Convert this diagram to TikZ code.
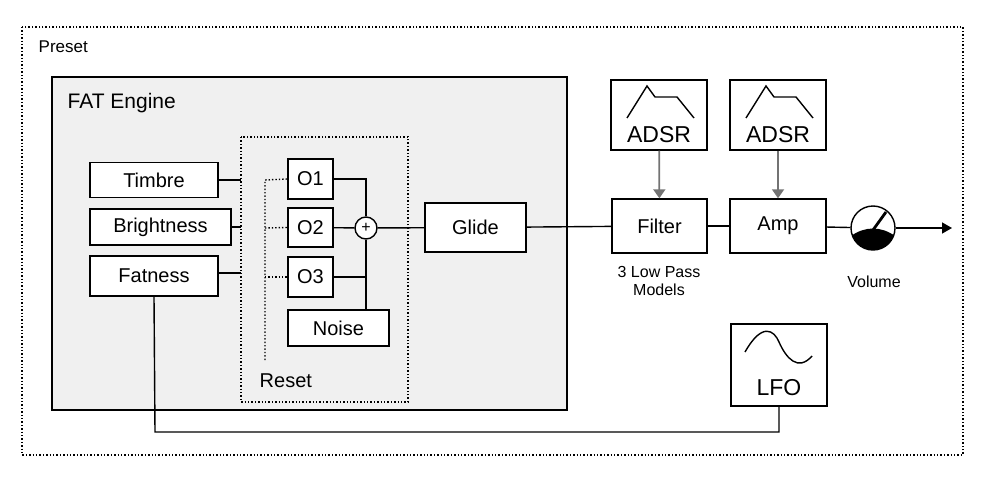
\documentclass[tikz,border=0pt]{standalone}
\usepackage{fontspec}
\setmainfont{Liberation Sans}
\usetikzlibrary{positioning}
\usetikzlibrary{calc}
\usetikzlibrary{arrows.meta}
\begin{document}
\begin{tikzpicture}[x=1pt, y=-1pt, line width=1.4pt,
        every node/.style={font=\fontsize{20}{23}\selectfont},
        blk/.style={draw, fill=white, inner sep=0pt},
        lbl/.style={anchor=west, inner sep=0pt},
        dot/.style={dotted, line width=1.4pt},
        mod/.style={draw=black!55, line width=1.8pt, -{Triangle[length=9pt, width=12pt]}}]
        \useasboundingbox (0,0) rectangle (987,503);

        \draw[dot] (22,27) rectangle (963,455);
        \node[lbl, font=\fontsize{17}{20}\selectfont] (preset) at (38,47) {Preset};
        \draw[fill=black!6] (52,77) rectangle (567,410);
        \node[lbl, font=\fontsize{21}{24}\selectfont] (fat) at (67,103) {FAT Engine};
        \draw[dot] (241,137) rectangle (408,402);
        \node[lbl] (reset) at (259,381) {Reset};

        \node[blk, minimum width=128pt, minimum height=35pt] (timbre) at (154,180) {Timbre};
        \node[blk, minimum width=141pt, minimum height=36pt] (bright) at (160.5,227) {Brightness};
        \node[blk, minimum width=128pt, minimum height=40pt] (fatness) at (154,276) {Fatness};
        \coordinate (t) at (241,180);
        \coordinate (b) at (241,227);
        \coordinate (f) at (241,273);
        \draw (timbre.east |- t) -- (t);
        \draw (bright) -- (b);
        \draw (fatness.east |- f) -- (f);

        \node[blk, minimum width=45pt, minimum height=40pt] (o1) at (310.5,179) {O1};
        \node[blk, minimum width=45pt, minimum height=39pt] (o2) at (310.5,227.5) {O2};
        \node[blk, minimum width=45pt, minimum height=40pt] (o3) at (310.5,277) {O3};
        \node[blk, minimum width=101pt, minimum height=36pt] (noise) at (338.5,328) {Noise};
        \node[draw, circle, fill=white, minimum size=22pt, inner sep=0pt, font=\fontsize{16}{16}\selectfont] (sum) at (366,228) {+};

        \coordinate (rs) at (265,360);
        \draw[dot] (rs) -- (265 ,180) -- (o1.west);
        \draw[dot] (265,228) -- (o2.west);
        \draw[dot] (265,277) -- (o3.west);
        \draw (o1.east) -| (sum.north);
        \draw (o2) -- (sum);
        \draw (o3.east) -| (sum.south);
        \draw (noise.north -| sum) -- (sum.south);

        \node[blk, minimum width=101pt, minimum height=49pt] (glide) at (475.5,227.5) {Glide};
        \node[blk, minimum width=95pt, minimum height=54pt] (filter) at (659.5,226) {Filter};
        \node[blk, minimum width=96pt, minimum height=54pt] (amp) at (778,226) {Amp};
        \node[draw, circle, fill=white, minimum size=44pt, inner sep=0pt] (knob) at (873,228) {};
        \coordinate (out) at (952,228);
        \draw (sum) -- (glide);
        \draw (glide) -- (filter);
        \draw (filter) -- (amp);
        \draw (amp) -- (knob);
        \draw[-{Triangle[length=10pt, width=11pt]}] (knob) -- (out);
        \begin{scope}
            \clip (knob.center) circle (22pt);
            \fill (851,236) .. controls (865,226) and (881,226) .. (895,236) -- (895,252) -- (851,252) -- cycle;
        \end{scope}
        \draw[line width=2.8pt] (knob.center) ++(0,2) -- (886,212);

        \node[blk, minimum width=96pt, minimum height=70pt] (adsr1) at (659,115) {};
        \node[anchor=south, inner sep=0pt, font=\fontsize{23}{25}\selectfont] (adsrf) at ($(adsr1.south)+(0,-7)$) {ADSR};
        \draw (627,118) -- (647,86) -- (655,97) -- (677,97) -- (694,118);
        \node[blk, minimum width=96pt, minimum height=70pt] (adsr2) at (778,115) {};
        \node[anchor=south, inner sep=0pt, font=\fontsize{23}{25}\selectfont] (adsra) at ($(adsr2.south)+(0,-7)$) {ADSR};
        \draw (746,118) -- (766,86) -- (774,97) -- (796,97) -- (813,118);
        \draw[mod] (adsr1) -- (filter);
        \draw[mod] (adsr2) -- (amp);

        \node[align=center, font=\fontsize{16}{18}\selectfont] (lp) at (659,281) {3 Low Pass\\Models};
        \node[font=\fontsize{16}{18}\selectfont] (vol) at (874,282) {Volume};

        \node[blk, minimum width=96pt, minimum height=82pt] (lfo) at (779,365) {};
        \node[anchor=south, inner sep=0pt, font=\fontsize{23}{25}\selectfont] (lfot) at ($(lfo.south)+(0,-10)$) {LFO};
        \draw (745,352) .. controls (762,322) and (774,330) .. (779,342) .. controls (786,358) and (798,372) .. (812,356);
        \coordinate (bus) at (155,432);
        \draw (fatness.south) -- (bus) -| (lfo.south);
    \end{tikzpicture}
\end{document}
